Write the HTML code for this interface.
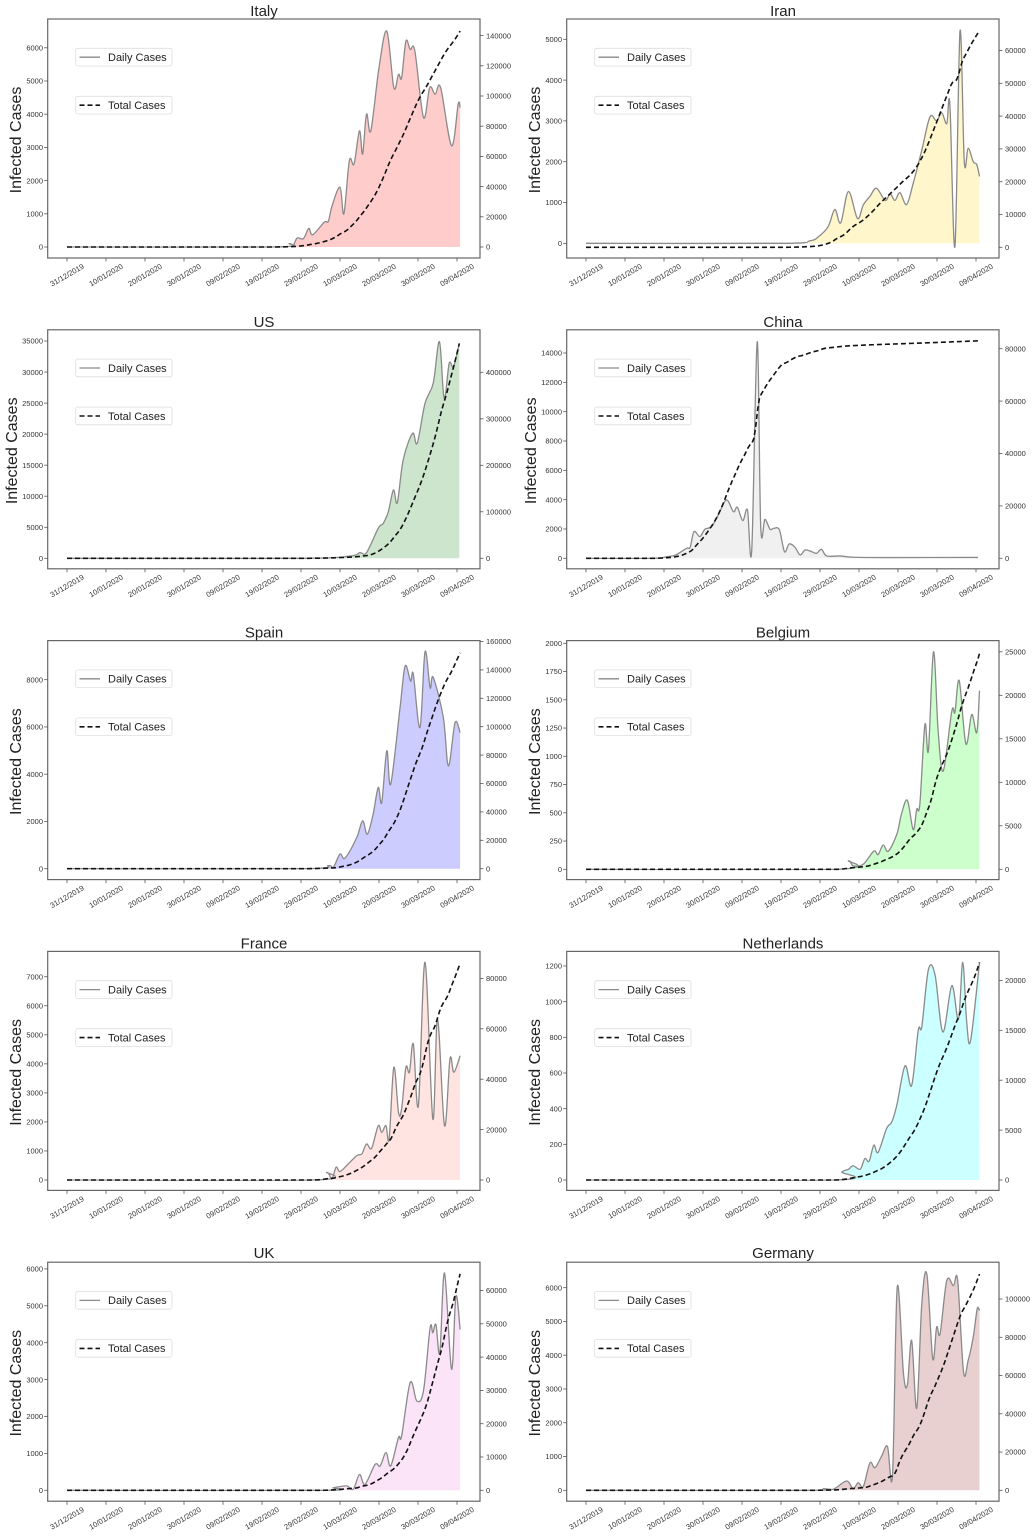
<!DOCTYPE html>
<html><head><meta charset="utf-8"><style>
body{margin:0;background:#fff}
svg{display:block;font-family:"Liberation Sans","DejaVu Sans",sans-serif}
.title{font-size:15px;text-anchor:middle;fill:#222}
.lt text,.rt text{font-size:7.5px;fill:#333}
.lt text{text-anchor:end}
.xt text{font-size:7.5px;fill:#333;text-anchor:middle}
.yl{font-size:16px;text-anchor:middle;fill:#222}
.lg{font-size:11px;fill:#222}
</style></head><body>
<svg id="s" width="1034" height="1536" viewBox="0 0 1034 1536" xmlns="http://www.w3.org/2000/svg">
<g class="panel" transform="translate(0,0)"><text class="title" x="264" y="16">Italy</text>
<g class="lt"><text>0</text><text>1000</text><text>2000</text><text>3000</text><text>4000</text><text>5000</text><text>6000</text></g>
<g class="rt"><text>0</text><text>20000</text><text>40000</text><text>60000</text><text>80000</text><text>100000</text><text>120000</text><text>140000</text></g>
<g class="xt"><text>31/12/2019</text><text>10/01/2020</text><text>20/01/2020</text><text>30/01/2020</text><text>09/02/2020</text><text>19/02/2020</text><text>29/02/2020</text><text>10/03/2020</text><text>20/03/2020</text><text>30/03/2020</text><text>09/04/2020</text></g>
<text class="yl" transform="translate(21,140) rotate(-90)">Infected Cases</text>
<g class="leg"><text class="lg" x="108" y="61">Daily Cases</text><text class="lg" x="108" y="109">Total Cases</text></g></g>

<g class="panel" transform="translate(519,0)"><text class="title" x="264" y="16">Iran</text>
<g class="lt"><text>0</text><text>1000</text><text>2000</text><text>3000</text><text>4000</text><text>5000</text></g>
<g class="rt"><text>0</text><text>10000</text><text>20000</text><text>30000</text><text>40000</text><text>50000</text><text>60000</text></g>
<g class="xt"><text>31/12/2019</text><text>10/01/2020</text><text>20/01/2020</text><text>30/01/2020</text><text>09/02/2020</text><text>19/02/2020</text><text>29/02/2020</text><text>10/03/2020</text><text>20/03/2020</text><text>30/03/2020</text><text>09/04/2020</text></g>
<text class="yl" transform="translate(21,140) rotate(-90)">Infected Cases</text>
<g class="leg"><text class="lg" x="108" y="61">Daily Cases</text><text class="lg" x="108" y="109">Total Cases</text></g></g>

<g class="panel" transform="translate(0,310.8)"><text class="title" x="264" y="16">US</text>
<g class="lt"><text>0</text><text>5000</text><text>10000</text><text>15000</text><text>20000</text><text>25000</text><text>30000</text><text>35000</text></g>
<g class="rt"><text>0</text><text>100000</text><text>200000</text><text>300000</text><text>400000</text></g>
<g class="xt"><text>31/12/2019</text><text>10/01/2020</text><text>20/01/2020</text><text>30/01/2020</text><text>09/02/2020</text><text>19/02/2020</text><text>29/02/2020</text><text>10/03/2020</text><text>20/03/2020</text><text>30/03/2020</text><text>09/04/2020</text></g>
<text class="yl" transform="translate(17,140) rotate(-90)">Infected Cases</text>
<g class="leg"><text class="lg" x="108" y="61">Daily Cases</text><text class="lg" x="108" y="109">Total Cases</text></g></g>

<g class="panel" transform="translate(519,310.8)"><text class="title" x="264" y="16">China</text>
<g class="lt"><text>0</text><text>2000</text><text>4000</text><text>6000</text><text>8000</text><text>10000</text><text>12000</text><text>14000</text></g>
<g class="rt"><text>0</text><text>20000</text><text>40000</text><text>60000</text><text>80000</text></g>
<g class="xt"><text>31/12/2019</text><text>10/01/2020</text><text>20/01/2020</text><text>30/01/2020</text><text>09/02/2020</text><text>19/02/2020</text><text>29/02/2020</text><text>10/03/2020</text><text>20/03/2020</text><text>30/03/2020</text><text>09/04/2020</text></g>
<text class="yl" transform="translate(17,140) rotate(-90)">Infected Cases</text>
<g class="leg"><text class="lg" x="108" y="61">Daily Cases</text><text class="lg" x="108" y="109">Total Cases</text></g></g>

<g class="panel" transform="translate(0,621.6)"><text class="title" x="264" y="16">Spain</text>
<g class="lt"><text>0</text><text>2000</text><text>4000</text><text>6000</text><text>8000</text></g>
<g class="rt"><text>0</text><text>20000</text><text>40000</text><text>60000</text><text>80000</text><text>100000</text><text>120000</text><text>140000</text><text>160000</text></g>
<g class="xt"><text>31/12/2019</text><text>10/01/2020</text><text>20/01/2020</text><text>30/01/2020</text><text>09/02/2020</text><text>19/02/2020</text><text>29/02/2020</text><text>10/03/2020</text><text>20/03/2020</text><text>30/03/2020</text><text>09/04/2020</text></g>
<text class="yl" transform="translate(21,140) rotate(-90)">Infected Cases</text>
<g class="leg"><text class="lg" x="108" y="61">Daily Cases</text><text class="lg" x="108" y="109">Total Cases</text></g></g>

<g class="panel" transform="translate(519,621.6)"><text class="title" x="264" y="16">Belgium</text>
<g class="lt"><text>0</text><text>250</text><text>500</text><text>750</text><text>1000</text><text>1250</text><text>1500</text><text>1750</text><text>2000</text></g>
<g class="rt"><text>0</text><text>5000</text><text>10000</text><text>15000</text><text>20000</text><text>25000</text></g>
<g class="xt"><text>31/12/2019</text><text>10/01/2020</text><text>20/01/2020</text><text>30/01/2020</text><text>09/02/2020</text><text>19/02/2020</text><text>29/02/2020</text><text>10/03/2020</text><text>20/03/2020</text><text>30/03/2020</text><text>09/04/2020</text></g>
<text class="yl" transform="translate(21,140) rotate(-90)">Infected Cases</text>
<g class="leg"><text class="lg" x="108" y="61">Daily Cases</text><text class="lg" x="108" y="109">Total Cases</text></g></g>

<g class="panel" transform="translate(0,932.4)"><text class="title" x="264" y="16">France</text>
<g class="lt"><text>0</text><text>1000</text><text>2000</text><text>3000</text><text>4000</text><text>5000</text><text>6000</text><text>7000</text></g>
<g class="rt"><text>0</text><text>20000</text><text>40000</text><text>60000</text><text>80000</text></g>
<g class="xt"><text>31/12/2019</text><text>10/01/2020</text><text>20/01/2020</text><text>30/01/2020</text><text>09/02/2020</text><text>19/02/2020</text><text>29/02/2020</text><text>10/03/2020</text><text>20/03/2020</text><text>30/03/2020</text><text>09/04/2020</text></g>
<text class="yl" transform="translate(21,140) rotate(-90)">Infected Cases</text>
<g class="leg"><text class="lg" x="108" y="61">Daily Cases</text><text class="lg" x="108" y="109">Total Cases</text></g></g>

<g class="panel" transform="translate(519,932.4)"><text class="title" x="264" y="16">Netherlands</text>
<g class="lt"><text>0</text><text>200</text><text>400</text><text>600</text><text>800</text><text>1000</text><text>1200</text></g>
<g class="rt"><text>0</text><text>5000</text><text>10000</text><text>15000</text><text>20000</text></g>
<g class="xt"><text>31/12/2019</text><text>10/01/2020</text><text>20/01/2020</text><text>30/01/2020</text><text>09/02/2020</text><text>19/02/2020</text><text>29/02/2020</text><text>10/03/2020</text><text>20/03/2020</text><text>30/03/2020</text><text>09/04/2020</text></g>
<text class="yl" transform="translate(21,140) rotate(-90)">Infected Cases</text>
<g class="leg"><text class="lg" x="108" y="61">Daily Cases</text><text class="lg" x="108" y="109">Total Cases</text></g></g>

<g class="panel" transform="translate(0,1243.2)"><text class="title" x="264" y="15">UK</text>
<g class="lt"><text>0</text><text>1000</text><text>2000</text><text>3000</text><text>4000</text><text>5000</text><text>6000</text></g>
<g class="rt"><text>0</text><text>10000</text><text>20000</text><text>30000</text><text>40000</text><text>50000</text><text>60000</text></g>
<g class="xt"><text>31/12/2019</text><text>10/01/2020</text><text>20/01/2020</text><text>30/01/2020</text><text>09/02/2020</text><text>19/02/2020</text><text>29/02/2020</text><text>10/03/2020</text><text>20/03/2020</text><text>30/03/2020</text><text>09/04/2020</text></g>
<text class="yl" transform="translate(21,140) rotate(-90)">Infected Cases</text>
<g class="leg"><text class="lg" x="108" y="61">Daily Cases</text><text class="lg" x="108" y="109">Total Cases</text></g></g>

<g class="panel" transform="translate(519,1243.2)"><text class="title" x="264" y="15">Germany</text>
<g class="lt"><text>0</text><text>1000</text><text>2000</text><text>3000</text><text>4000</text><text>5000</text><text>6000</text></g>
<g class="rt"><text>0</text><text>20000</text><text>40000</text><text>60000</text><text>80000</text><text>100000</text></g>
<g class="xt"><text>31/12/2019</text><text>10/01/2020</text><text>20/01/2020</text><text>30/01/2020</text><text>09/02/2020</text><text>19/02/2020</text><text>29/02/2020</text><text>10/03/2020</text><text>20/03/2020</text><text>30/03/2020</text><text>09/04/2020</text></g>
<text class="yl" transform="translate(21,140) rotate(-90)">Infected Cases</text>
<g class="leg"><text class="lg" x="108" y="61">Daily Cases</text><text class="lg" x="108" y="109">Total Cases</text></g></g>
</svg>
<script>
var P=[
{c:'#ffcccc',L0:247,ls:0.0332,lst:1000,R0:247,rs:0.00151,rst:20000,tot:143000,d:[[0,0],[53,0],[57,100],[58,50],[59,270],[60.6,250],[62,560],[63,370],[66,750],[67,770],[68,1250],[70,1800],[71,1000],[72.4,2600],[73.6,2500],[75,3500],[75.8,2800],[76.8,4000],[77.9,3500],[80,5400],[82,6500],[83.8,4800],[85,5200],[85.8,5100],[86.9,6200],[88,5950],[89.2,5900],[91.4,3900],[93,4800],[94.4,4600],[95.8,4800],[98.6,3050],[100.3,4300],[100.8,4200]]},
{c:'#fff6cc',L0:243.3,ls:0.0408,lst:1000,R0:247.3,rs:0.00328,rst:10000,tot:66000,neg:1,d:[[0,0],[50,0],[57.4,60],[59.6,160],[62.1,410],[63.8,830],[65.3,500],[67.3,1270],[69.6,610],[71.1,940],[72.8,1150],[74.5,1350],[76.7,1050],[78,1210],[79.2,1050],[80.5,1240],[82.2,950],[83.9,1470],[86.1,2280],[88.2,3100],[89.9,3000],[91.2,3200],[92.5,2930],[93.3,3400],[94.6,-80],[95.9,5200],[97,2000],[98,2330],[99.3,2000],[100.2,1930],[100.9,1640]]},
{c:'#cce5cc',L0:247.5,ls:0.006208,lst:5000,R0:247.5,rs:0.000465,rst:100000,tot:462000,d:[[0,0],[60,0],[72.6,375],[75.1,910],[76.8,910],[79.8,4830],[81.1,5640],[82.4,7520],[83.7,11000],[84.7,8970],[86.2,15840],[88.6,20140],[89.8,18530],[91.8,24970],[93.9,28200],[95.5,34900],[96.7,25780],[98,31400],[99.1,30880],[100.6,34640]]},
{c:'#f0f0f0',L0:247.5,ls:0.014665,lst:2000,R0:247.5,rs:0.00262,rst:20000,tot:83000,d:[[0,0],[17,0],[20.7,110],[23,230],[25.8,680],[26.7,750],[27.7,1820],[29.2,1480],[30.5,1980],[32.2,2160],[33.9,2950],[36,3980],[37.8,3180],[38.8,3480],[40.2,2570],[41.4,3300],[42.5,570],[43.9,14770],[44.8,2160],[45.9,2660],[47.2,1980],[48.2,2050],[49.6,1930],[50.9,450],[52.1,980],[53.6,750],[54.9,230],[56.2,570],[57.9,450],[59.1,340],[60.4,610],[61.7,160],[65.1,160],[68.5,70],[77,50],[100.5,60]]},
{c:'#ccccff',L0:247.1,ls:0.023625,lst:2000,R0:247.1,rs:0.00142,rst:20000,tot:152000,d:[[0,0],[60,0],[67,130],[68.3,60],[70,620],[71.3,450],[74.3,1320],[75.8,2030],[77,1460],[78.5,2310],[79.8,3440],[80.7,2800],[82,4990],[83,3580],[85.4,6820],[86.7,8580],[88.1,7940],[88.8,8230],[90.5,5970],[91.8,9180],[93.1,7660],[93.9,8100],[96.5,6390],[97.8,4350],[99.5,6180],[100.8,5760]]},
{c:'#ccffcc',L0:247.7,ls:0.113,lst:250,R0:247.7,rs:0.0087,rst:5000,tot:24800,d:[[0,0],[64,0],[67.3,75],[68.5,30],[71.1,45],[73.8,160],[74.9,130],[76.2,215],[77.5,160],[79.7,310],[80.9,490],[82.4,610],[83.9,350],[84.8,530],[85.6,575],[86.9,1280],[87.8,1050],[89.1,1925],[90.3,1220],[91.6,870],[93.8,1400],[94.6,1390],[95.7,1670],[97.4,1110],[98.9,1370],[100.2,1210],[100.9,1580]]},
{c:'#ffe4e1',L0:247.6,ls:0.02904,lst:1000,R0:247.6,rs:0.00252,rst:20000,tot:86000,d:[[0,0],[63,0],[66.6,260],[67.9,30],[69,440],[70,290],[72.1,550],[74.3,840],[75.6,900],[76.8,1240],[78.1,1090],[79.8,1870],[80.7,1640],[81.8,1870],[82.6,1410],[83.8,3880],[85,2330],[85.8,2450],[86.9,3880],[87.8,3710],[88.8,4680],[90.1,2560],[91.8,7500],[93.8,2100],[95,5550],[96.8,1870],[98.2,4170],[99.2,3710],[100.8,4280]]},
{c:'#ccffff',L0:247.6,ls:0.17835,lst:200,R0:247.6,rs:0.00998,rst:5000,tot:21800,d:[[0,0],[64,0],[65.6,45],[67.3,60],[68.5,80],[70.3,60],[71.5,120],[72.6,105],[73.8,195],[74.9,155],[77.1,290],[78.4,325],[79.7,420],[81.8,640],[83.5,530],[85.2,840],[86.1,860],[87.8,1180],[89.5,1150],[91.5,830],[93.8,1090],[95.5,900],[96.6,1220],[97.6,890],[98.6,780],[100.9,1220]]},
{c:'#fbe3f8',L0:247.1,ls:0.0369,lst:1000,R0:247.1,rs:0.00333,rst:10000,tot:65000,d:[[0,0],[65,0],[68.3,70],[71.7,120],[73.4,30],[75,430],[76.4,160],[79,700],[80.3,660],[81.8,1020],[83,660],[85,1430],[85.8,1470],[88,2920],[89.7,2420],[91.4,2690],[93.1,4400],[93.8,4270],[94.6,4490],[95.6,3730],[96.8,5890],[98.6,3280],[99.7,5260],[100.8,4360]]},
{c:'#e8d0d0',L0:247.1,ls:0.03377,lst:1000,R0:247.1,rs:0.001913,rst:20000,tot:113000,d:[[0,0],[58,0],[60.9,50],[63.4,30],[66.8,275],[68.5,50],[69.8,225],[71.1,110],[72.8,810],[74.1,670],[75.8,1010],[77.3,1300],[78.6,470],[79.8,6010],[81.4,3460],[82.4,3120],[83.5,4440],[84.8,2430],[86.1,5520],[87.4,6400],[88.9,3900],[89.9,4830],[90.8,4640],[92.5,6210],[94.2,6060],[95.3,6210],[96.8,3510],[98,3850],[99.3,4540],[100.3,5370],[100.9,5320]]}
];
var NS='http://www.w3.org/2000/svg';
function el(p,t,a){var e=document.createElementNS(NS,t);for(var k in a)e.setAttribute(k,a[k]);p.appendChild(e);return e;}
function X(d){return 67+3.9*d;}
function cr(pts){var s='M'+pts[0][0].toFixed(2)+','+pts[0][1].toFixed(2);
 for(var i=0;i<pts.length-1;i++){var p0=pts[i-1]||pts[i],p1=pts[i],p2=pts[i+1],p3=pts[i+2]||p2;
  var c1x=p1[0]+(p2[0]-p0[0])/6,c1y=p1[1]+(p2[1]-p0[1])/6,c2x=p2[0]-(p3[0]-p1[0])/6,c2y=p2[1]-(p3[1]-p1[1])/6;
  s+='C'+c1x.toFixed(2)+','+c1y.toFixed(2)+' '+c2x.toFixed(2)+','+c2y.toFixed(2)+' '+p2[0].toFixed(2)+','+p2[1].toFixed(2);}
 return s;}
function interp(d,t){for(var i=0;i<d.length-1;i++){if(t<=d[i+1][0]){var a=d[i],b=d[i+1];return a[1]+(b[1]-a[1])*(t-a[0])/(b[0]-a[0]);}}return d[d.length-1][1];}
var panels=document.querySelectorAll('.panel');
var defs=el(document.getElementById('s'),'defs',{});
P.forEach(function(c,k){
 var g=panels[k];var first=g.firstChild;
 var bg=document.createElementNS(NS,'g');g.insertBefore(bg,first);
 var cp=el(defs,'clipPath',{id:'cp'+k});
 el(cp,'rect',{x:40,y:10,width:450,height:(c.neg?260:c.L0+0.7-10)});
 var dg=el(bg,'g',{'clip-path':'url(#cp'+k+')'});
 var pts=c.d.map(function(p){return [X(p[0]),c.L0-p[1]*c.ls];});
 var path=cr(pts);var last=pts[pts.length-1];
 el(dg,'path',{d:path+'L'+last[0]+','+c.L0+'L'+pts[0][0]+','+c.L0+'Z',fill:c.c,stroke:'none'});
 el(dg,'path',{d:path,fill:'none',stroke:'#8a8a8a','stroke-width':1.3});
 var end=c.d[c.d.length-1][0],st=0.1,cum=0,arr=[];
 for(var t=0;t<=end+1e-6;t+=st){var v=interp(c.d,t);cum+=Math.max(v,0)*st;arr.push([t,cum]);}
 var sc=c.tot/cum;var tp=[];for(var i=0;i<arr.length;i+=5)tp.push([X(arr[i][0]),c.R0-arr[i][1]*sc*c.rs]);
 tp.push([X(end),c.R0-c.tot*c.rs]);
 el(bg,'polyline',{points:tp.map(function(p){return p[0].toFixed(2)+','+p[1].toFixed(2);}).join(' '),fill:'none',stroke:'#111','stroke-width':1.6,'stroke-dasharray':'5,3'});
 el(bg,'rect',{x:47.7,y:19,width:432.3,height:239,fill:'none',stroke:'#666','stroke-width':1.2});
 var lt=g.querySelectorAll('.lt text');
 for(var i=0;i<lt.length;i++){var y=c.L0-i*c.lst*c.ls;lt[i].setAttribute('x',43);lt[i].setAttribute('y',(y+2.7).toFixed(2));el(bg,'line',{x1:44.2,x2:47.7,y1:y,y2:y,stroke:'#555','stroke-width':0.8});}
 var rt=g.querySelectorAll('.rt text');
 for(var i=0;i<rt.length;i++){var y=c.R0-i*c.rst*c.rs;rt[i].setAttribute('x',486);rt[i].setAttribute('y',(y+2.7).toFixed(2));el(bg,'line',{x1:480,x2:483.5,y1:y,y2:y,stroke:'#555','stroke-width':0.8});}
 var xt=g.querySelectorAll('.xt text');
 for(var i=0;i<xt.length;i++){var x=67+39*i;xt[i].setAttribute('transform','translate('+x+',275) rotate(-30)');xt[i].setAttribute('dy','0.35em');el(bg,'line',{x1:x,x2:x,y1:258,y2:261.5,stroke:'#555','stroke-width':0.8});}
 var lg=g.querySelector('.leg');var lb=document.createElementNS(NS,'g');g.insertBefore(lb,lg);
 el(lb,'rect',{x:75.7,y:48.3,width:96.3,height:17.7,fill:'#fff',stroke:'#ddd','stroke-width':0.8,rx:2});
 el(lb,'rect',{x:75.7,y:96.3,width:96.3,height:17.7,fill:'#fff',stroke:'#ddd','stroke-width':0.8,rx:2});
 el(lb,'line',{x1:79.5,x2:100,y1:57.2,y2:57.2,stroke:'#8a8a8a','stroke-width':1.3});
 el(lb,'line',{x1:79.5,x2:100,y1:105.2,y2:105.2,stroke:'#111','stroke-width':1.6,'stroke-dasharray':'5,3'});
});
</script>
</body></html>
